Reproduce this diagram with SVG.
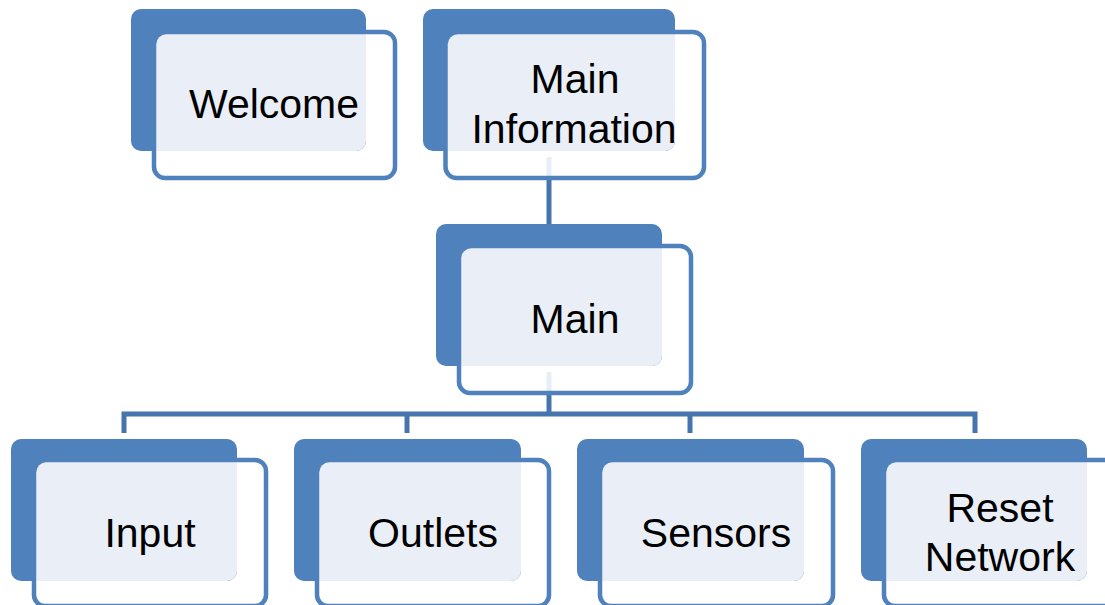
<svg xmlns="http://www.w3.org/2000/svg" width="1105" height="605" viewBox="0 0 1105 605">
<style>
.front{fill:#ffffff;fill-opacity:0.88;stroke:#4F81BD;stroke-width:4.5}
.back{fill:#4F81BD}
.light{fill:#EAEFF7}
.lbl{font-family:"Liberation Sans",Arial,sans-serif;font-size:41px;fill:#000000;text-anchor:middle}
.conn{fill:none;stroke:#4674AC;stroke-width:5;stroke-linejoin:miter}
</style>
<rect width="1105" height="605" fill="#ffffff"/>
<g id="connectors">
<path class="conn" d="M549,157 V226"/>
<path class="conn" d="M549,372 V414"/>
<path class="conn" d="M124,433 V414 H975 V433"/>
<path class="conn" d="M407,414 V433"/>
<path class="conn" d="M690,414 V433"/>
</g>
<g id="node-welcome">
<rect class="front" x="154" y="32" width="241" height="146" rx="11"/>
<rect class="back" x="131" y="9" width="235" height="142" rx="10"/>
<path class="light" d="M166.25,34.25 H366 V141 A10,10 0 0 1 356,151 H156.25 V44.25 A10,10 0 0 1 166.25,34.25 Z"/>
<text class="lbl" x="274" y="118">Welcome</text>
</g>
<g id="node-main-information">
<rect class="front" x="445.5" y="32" width="258.5" height="146" rx="11"/>
<rect class="back" x="423" y="9" width="252" height="142" rx="10"/>
<path class="light" d="M457.75,34.25 H675 V141 A10,10 0 0 1 665,151 H447.75 V44.25 A10,10 0 0 1 457.75,34.25 Z"/>
<text class="lbl" x="575" y="93">Main</text>
<text class="lbl" x="574" y="143">Information</text>
</g>
<g id="node-main">
<rect class="front" x="459" y="246" width="232" height="147" rx="11"/>
<rect class="back" x="436" y="224" width="226" height="142" rx="10"/>
<path class="light" d="M471.25,248.25 H662 V356 A10,10 0 0 1 652,366 H461.25 V258.25 A10,10 0 0 1 471.25,248.25 Z"/>
<text class="lbl" x="575" y="333">Main</text>
</g>
<g id="node-input">
<rect class="front" x="34" y="460" width="232" height="146" rx="11"/>
<rect class="back" x="11" y="439" width="226" height="142" rx="10"/>
<path class="light" d="M46.25,462.25 H237 V571 A10,10 0 0 1 227,581 H36.25 V472.25 A10,10 0 0 1 46.25,462.25 Z"/>
<text class="lbl" x="150" y="547">Input</text>
</g>
<g id="node-outlets">
<rect class="front" x="317" y="460" width="232" height="146" rx="11"/>
<rect class="back" x="294" y="439" width="227" height="142" rx="10"/>
<path class="light" d="M329.25,462.25 H521 V571 A10,10 0 0 1 511,581 H319.25 V472.25 A10,10 0 0 1 329.25,462.25 Z"/>
<text class="lbl" x="433" y="547">Outlets</text>
</g>
<g id="node-sensors">
<rect class="front" x="600" y="460" width="233" height="146" rx="11"/>
<rect class="back" x="577" y="439" width="227" height="142" rx="10"/>
<path class="light" d="M612.25,462.25 H804 V571 A10,10 0 0 1 794,581 H602.25 V472.25 A10,10 0 0 1 612.25,462.25 Z"/>
<text class="lbl" x="716" y="547">Sensors</text>
</g>
<g id="node-reset-network">
<rect class="front" x="884" y="460" width="232" height="146" rx="11"/>
<rect class="back" x="861" y="439" width="226" height="142" rx="10"/>
<path class="light" d="M896.25,462.25 H1087 V571 A10,10 0 0 1 1077,581 H886.25 V472.25 A10,10 0 0 1 896.25,462.25 Z"/>
<text class="lbl" x="1000" y="522">Reset</text>
<text class="lbl" x="1000" y="571">Network</text>
</g>
</svg>
